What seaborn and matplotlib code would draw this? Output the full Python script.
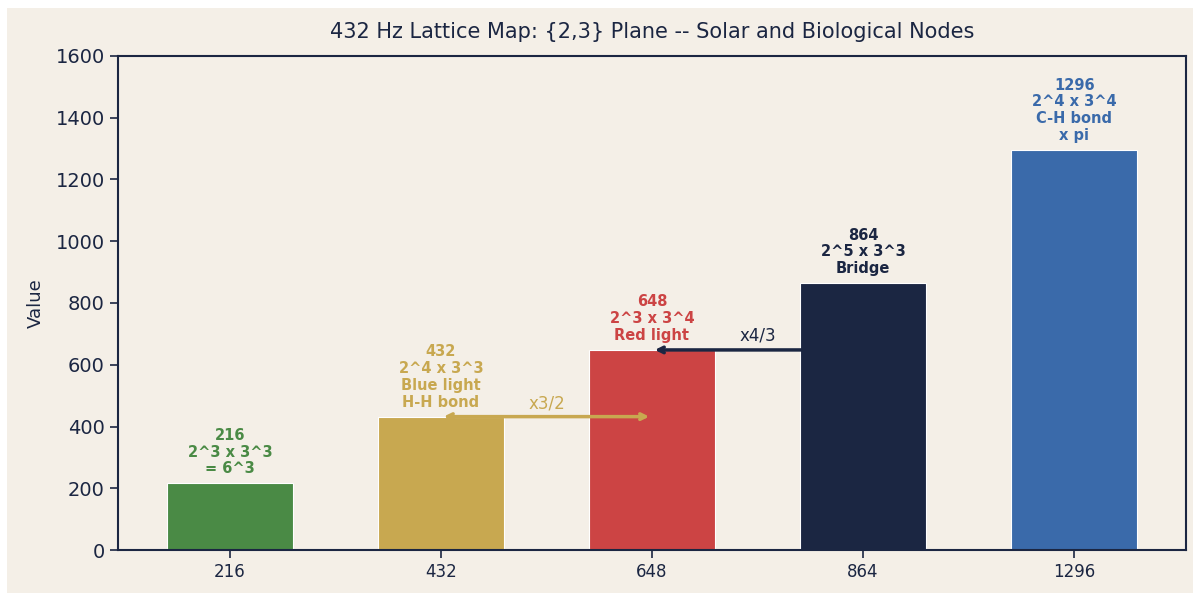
import matplotlib
matplotlib.use("Agg")
import matplotlib.pyplot as plt
import matplotlib.patches as mpatches
import pandas as pd
import seaborn as sns

BG = "#f4efe7"
NAVY = "#1b2642"

categories = ["216", "432", "648", "864", "1296"]
values = [216, 432, 648, 864, 1296]
bar_colors = ["#4a8a45", "#c8a850", "#cc4444", "#1b2642", "#3a6aaa"]
labels = [
    "216\n2^3 x 3^3\n= 6^3",
    "432\n2^4 x 3^3\nBlue light\nH-H bond",
    "648\n2^3 x 3^4\nRed light",
    "864\n2^5 x 3^3\nBridge",
    "1296\n2^4 x 3^4\nC-H bond\nx pi",
]
title = "432 Hz Lattice Map: {2,3} Plane -- Solar and Biological Nodes"

df = pd.DataFrame({"cat": categories, "val": values})

sns.set_style("white")
plt.rcParams["font.family"] = ["DejaVu Sans"]

fig = plt.figure(figsize=(11.93, 5.93), dpi=100, facecolor="white")
# beige panel (white strip top/left as in reference)
fig.patches.append(mpatches.Rectangle((7 / 1193, 0), 1, 1 - 8 / 593,
                                      transform=fig.transFigure,
                                      facecolor=BG, edgecolor="none", zorder=-10))
ax = fig.add_axes([118 / 1193, 43 / 593, (1186 - 118) / 1193, (550 - 56) / 593])
ax.set_facecolor(BG)

sns.barplot(data=df, x="cat", y="val", hue="cat", order=categories,
            palette=dict(zip(categories, bar_colors)), legend=False,
            width=0.6, edgecolor="white", linewidth=0.8, saturation=1, ax=ax)

for i, (v, lab, c) in enumerate(zip(values, labels, bar_colors)):
    ax.annotate(lab, xy=(i, v), xytext=(0, 5), textcoords="offset points",
                ha="center", va="bottom", fontsize=10.5, fontweight="bold",
                color=c, linespacing=1.15)

# ratio arrows
ax.annotate("", xy=(2, 432), xytext=(1, 432),
            arrowprops=dict(arrowstyle="<->", color=bar_colors[1], lw=2.5))
ax.text(1.5, 445, "x3/2", ha="center", va="bottom", fontsize=12, color=bar_colors[1])
ax.annotate("", xy=(2, 648), xytext=(3, 648),
            arrowprops=dict(arrowstyle="->", color=NAVY, lw=2.5), zorder=1)
ax.text(2.5, 665, "x4/3", ha="center", va="bottom", fontsize=12, color=NAVY)

ax.set_xlim(-0.53, 4.53)
ax.set_ylim(0, 1600)
ax.set_yticks(range(0, 1601, 200))
ax.set_xlabel("")
ax.set_ylabel("Value", fontsize=13, color=NAVY, labelpad=8)
ax.set_title(title, fontsize=15, color=NAVY, pad=13)
ax.tick_params(axis="y", labelsize=14, colors=NAVY, length=6, width=1.2, left=True)
ax.tick_params(axis="x", labelsize=12, colors=NAVY, length=6, width=1.2, bottom=True)
for s in ax.spines.values():
    s.set_color(NAVY)
    s.set_linewidth(1.5)

fig.savefig("out.png", dpi=100, facecolor=fig.get_facecolor())
